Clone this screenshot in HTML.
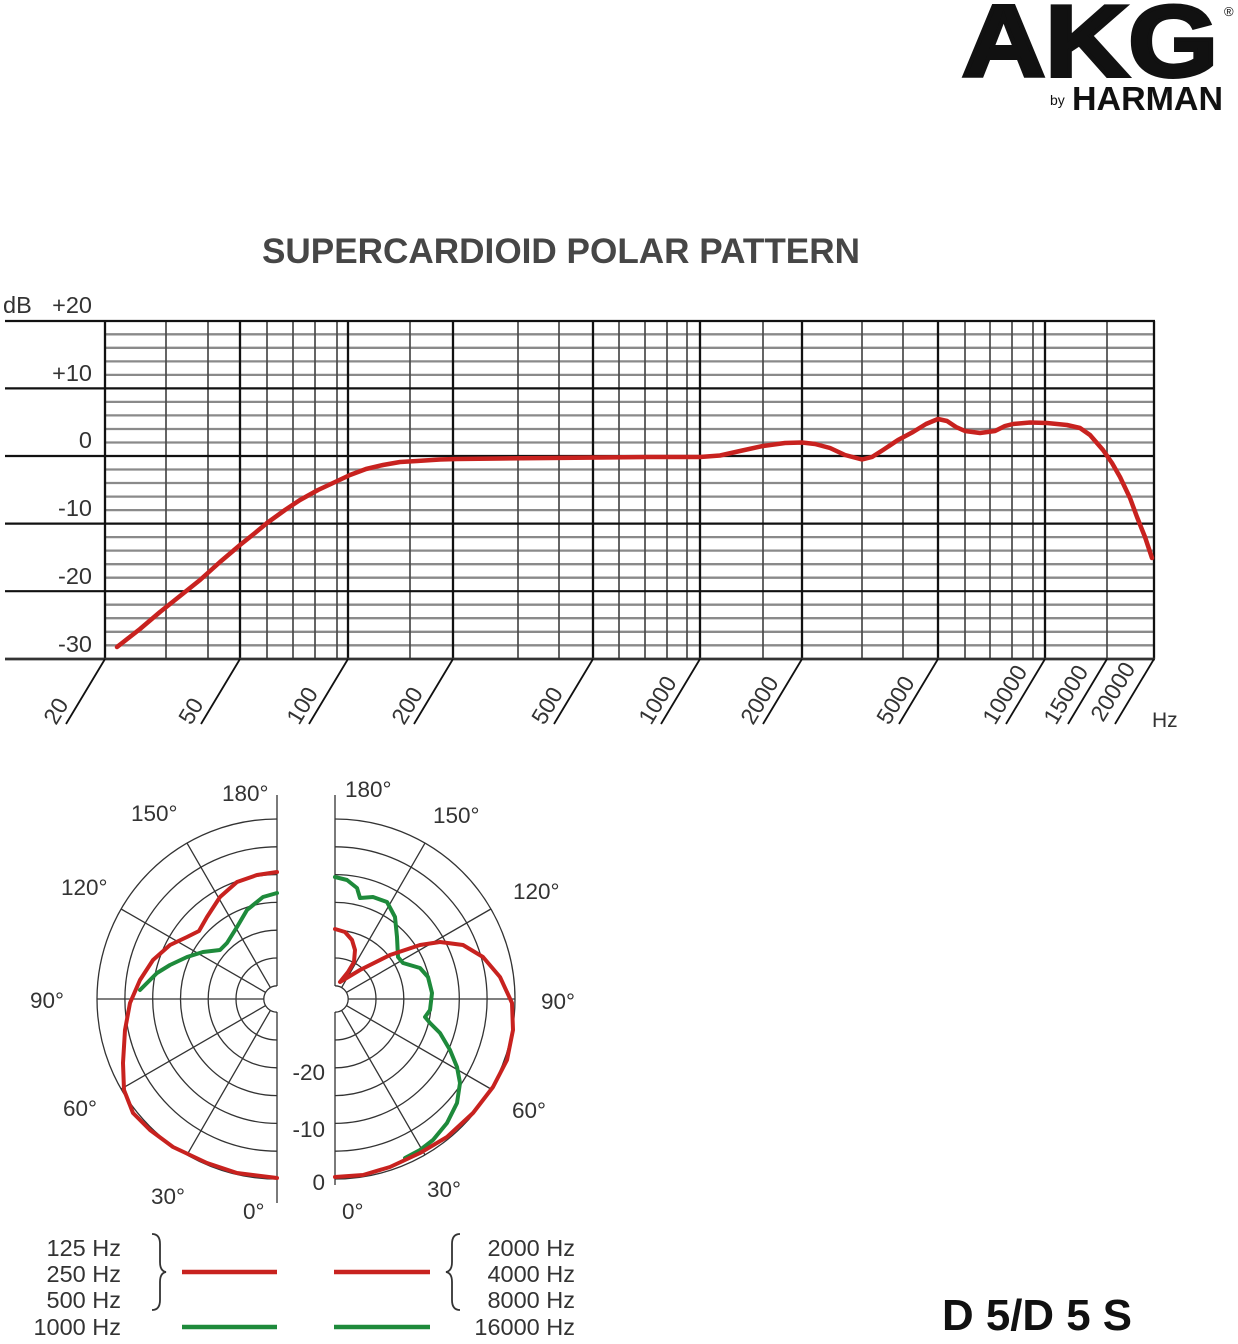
<!DOCTYPE html>
<html><head><meta charset="utf-8"><style>
html,body{margin:0;padding:0;background:#fff;}
svg{display:block;}
text{font-family:"Liberation Sans",Arial,sans-serif;}
</style></head><body>
<svg width="1238" height="1344" viewBox="0 0 1238 1344" xmlns="http://www.w3.org/2000/svg">
<rect width="1238" height="1344" fill="#fff"/>

<!-- Logo -->
<text x="962" y="76" font-size="101" font-weight="bold" fill="#111" stroke="#111" stroke-width="4" textLength="256" lengthAdjust="spacingAndGlyphs">AKG</text>
<text x="1224" y="16" font-size="13" fill="#111">®</text>
<text x="1050" y="105" font-size="14" fill="#111">by</text>
<text x="1072" y="110" font-size="33" font-weight="bold" fill="#111" textLength="151" lengthAdjust="spacingAndGlyphs">HARMAN</text>

<!-- Title -->
<text x="262" y="263" font-size="35" font-weight="bold" fill="#464646" textLength="598" lengthAdjust="spacingAndGlyphs">SUPERCARDIOID POLAR PATTERN</text>

<!-- Frequency chart grid: minor horizontals -->
<g stroke="#8a8a8a" stroke-width="2.3">
<line x1="105" x2="1154" y1="334.3" y2="334.3"/><line x1="105" x2="1154" y1="347.8" y2="347.8"/><line x1="105" x2="1154" y1="361.4" y2="361.4"/><line x1="105" x2="1154" y1="374.9" y2="374.9"/>
<line x1="105" x2="1154" y1="401.9" y2="401.9"/><line x1="105" x2="1154" y1="415.4" y2="415.4"/><line x1="105" x2="1154" y1="429" y2="429"/><line x1="105" x2="1154" y1="442.5" y2="442.5"/>
<line x1="105" x2="1154" y1="469.5" y2="469.5"/><line x1="105" x2="1154" y1="483" y2="483"/><line x1="105" x2="1154" y1="496.6" y2="496.6"/><line x1="105" x2="1154" y1="510.1" y2="510.1"/>
<line x1="105" x2="1154" y1="537.1" y2="537.1"/><line x1="105" x2="1154" y1="550.6" y2="550.6"/><line x1="105" x2="1154" y1="564.2" y2="564.2"/><line x1="105" x2="1154" y1="577.7" y2="577.7"/>
<line x1="105" x2="1154" y1="604.7" y2="604.7"/><line x1="105" x2="1154" y1="618.2" y2="618.2"/><line x1="105" x2="1154" y1="631.8" y2="631.8"/><line x1="105" x2="1154" y1="645.3" y2="645.3"/>
</g>
<!-- minor verticals -->
<g stroke="#4a4a4a" stroke-width="1.7">
<line x1="166" x2="166" y1="321" y2="659"/><line x1="208" x2="208" y1="321" y2="659"/>
<line x1="267" x2="267" y1="321" y2="659"/><line x1="293" x2="293" y1="321" y2="659"/><line x1="315" x2="315" y1="321" y2="659"/><line x1="337" x2="337" y1="321" y2="659"/>
<line x1="410" x2="410" y1="321" y2="659"/>
<line x1="518" x2="518" y1="321" y2="659"/><line x1="559" x2="559" y1="321" y2="659"/>
<line x1="619" x2="619" y1="321" y2="659"/><line x1="645" x2="645" y1="321" y2="659"/><line x1="667" x2="667" y1="321" y2="659"/><line x1="687" x2="687" y1="321" y2="659"/>
<line x1="763" x2="763" y1="321" y2="659"/>
<line x1="862" x2="862" y1="321" y2="659"/><line x1="903" x2="903" y1="321" y2="659"/>
<line x1="965" x2="965" y1="321" y2="659"/><line x1="990" x2="990" y1="321" y2="659"/><line x1="1012" x2="1012" y1="321" y2="659"/><line x1="1033" x2="1033" y1="321" y2="659"/>
<line x1="1107" x2="1107" y1="321" y2="659"/>
</g>
<!-- major verticals -->
<g stroke="#111" stroke-width="2.3">
<line x1="105" x2="105" y1="321" y2="659"/><line x1="240" x2="240" y1="321" y2="659"/><line x1="348" x2="348" y1="321" y2="659"/><line x1="453" x2="453" y1="321" y2="659"/>
<line x1="593" x2="593" y1="321" y2="659"/><line x1="700" x2="700" y1="321" y2="659"/><line x1="802" x2="802" y1="321" y2="659"/><line x1="938" x2="938" y1="321" y2="659"/>
<line x1="1045" x2="1045" y1="321" y2="659"/><line x1="1154" x2="1154" y1="321" y2="659"/>
</g>
<!-- major horizontals -->
<g stroke="#111" stroke-width="2.2">
<line x1="5" x2="1155" y1="321" y2="321"/><line x1="5" x2="1155" y1="388.4" y2="388.4"/><line x1="5" x2="1155" y1="456" y2="456"/>
<line x1="5" x2="1155" y1="523.6" y2="523.6"/><line x1="5" x2="1155" y1="591.2" y2="591.2"/>
</g>
<line x1="5" x2="1155" y1="659" y2="659" stroke="#333" stroke-width="2.8"/>
<!-- diagonal ticks -->
<g stroke="#111" stroke-width="1.8">
<line x1="105" y1="659" x2="66" y2="724"/><line x1="240" y1="659" x2="201" y2="724"/><line x1="348" y1="659" x2="309" y2="724"/>
<line x1="453" y1="659" x2="414" y2="724"/><line x1="593" y1="659" x2="554" y2="724"/><line x1="700" y1="659" x2="661" y2="724"/>
<line x1="802" y1="659" x2="763" y2="724"/><line x1="938" y1="659" x2="899" y2="724"/><line x1="1045" y1="659" x2="1006" y2="724"/>
<line x1="1107" y1="659" x2="1068" y2="724"/><line x1="1154" y1="659" x2="1115" y2="724"/>
</g>
<!-- x labels -->
<g font-size="23" fill="#333">
<text transform="translate(56,726) rotate(-59)">20</text>
<text transform="translate(191,726) rotate(-59)">50</text>
<text transform="translate(299,726) rotate(-59)">100</text>
<text transform="translate(404,726) rotate(-59)">200</text>
<text transform="translate(544,726) rotate(-59)">500</text>
<text transform="translate(651,726) rotate(-59)">1000</text>
<text transform="translate(753,726) rotate(-59)">2000</text>
<text transform="translate(889,726) rotate(-59)">5000</text>
<text transform="translate(995,726) rotate(-59)">10000</text>
<text transform="translate(1056,726) rotate(-59)">15000</text>
<text transform="translate(1103,723) rotate(-59)">20000</text>
<text x="1152" y="727" font-size="21">Hz</text>
</g>
<!-- y labels -->
<g font-size="23.5" fill="#333">
<text x="3" y="313">dB</text>
<text x="92" y="313" text-anchor="end">+20</text>
<text x="92" y="381" text-anchor="end">+10</text>
<text x="92" y="448" text-anchor="end">0</text>
<text x="92" y="516" text-anchor="end">-10</text>
<text x="92" y="584" text-anchor="end">-20</text>
<text x="92" y="652" text-anchor="end">-30</text>
</g>
<!-- response curve -->
<polyline fill="none" stroke="#c8221f" stroke-width="4.5" stroke-linejoin="round" stroke-linecap="round" points="117,647 140,629 160,612 180,596 200,580 220,562 240,545 255,533 267,523 285,510 300,500 318,490 333,483 350,475 366,469 383,465 400,462 417,461 440,459.5 457,459 500,458.5 550,458 600,457.5 650,457 680,457 700,457 720,455.5 740,451 763,446 785,443 802,442.5 815,444 830,448 845,455 862,459.5 872,457 883,450 898,440 913,432 926,424 938,419 947,421 956,427 965,431 980,433 995,431 1005,426 1013,424 1030,422.5 1047,423 1067,425 1080,428 1090,435 1103,450 1112,463 1120,477 1130,498 1137,517 1145,537 1152,558"/>

<!-- Polar grids -->
<g fill="none" stroke="#333" stroke-width="1.3">
<path d="M277,819 A180,180 0 0 0 277,1179"/>
<path d="M277,846.8 A152.2,152.2 0 0 0 277,1151.2"/>
<path d="M277,874.6 A124.4,124.4 0 0 0 277,1123.4"/>
<path d="M277,902.4 A96.6,96.6 0 0 0 277,1095.6"/>
<path d="M277,930.2 A68.8,68.8 0 0 0 277,1067.8"/>
<path d="M277,958 A41,41 0 0 0 277,1040"/>
<path d="M277,985.8 A13.2,13.2 0 0 0 277,1012.2"/>
<line x1="97" y1="999" x2="264" y2="999"/>
<line x1="270.4" y1="1010.4" x2="187" y2="1154.9"/>
<line x1="265.6" y1="1005.6" x2="121.1" y2="1089"/>
<line x1="265.6" y1="992.4" x2="121.1" y2="909"/>
<line x1="270.4" y1="987.6" x2="187" y2="843.1"/>
<line x1="277" y1="795" x2="277" y2="986"/>
<line x1="277" y1="1012" x2="277" y2="1203"/>
<path d="M335,819 A180,180 0 0 1 335,1179"/>
<path d="M335,846.8 A152.2,152.2 0 0 1 335,1151.2"/>
<path d="M335,874.6 A124.4,124.4 0 0 1 335,1123.4"/>
<path d="M335,902.4 A96.6,96.6 0 0 1 335,1095.6"/>
<path d="M335,930.2 A68.8,68.8 0 0 1 335,1067.8"/>
<path d="M335,958 A41,41 0 0 1 335,1040"/>
<path d="M335,985.8 A13.2,13.2 0 0 1 335,1012.2"/>
<line x1="348" y1="999" x2="515" y2="999"/>
<line x1="341.6" y1="1010.4" x2="425" y2="1154.9"/>
<line x1="346.4" y1="1005.6" x2="490.9" y2="1089"/>
<line x1="346.4" y1="992.4" x2="490.9" y2="909"/>
<line x1="341.6" y1="987.6" x2="425" y2="843.1"/>
<line x1="335" y1="795" x2="335" y2="986"/>
<line x1="335" y1="1012" x2="335" y2="1185"/>
</g>
<!-- Polar curves -->
<g fill="none" stroke-width="4" stroke-linejoin="round" stroke-linecap="round">
<polyline stroke="#1e8a3b" points="277,893 263,897 247,910 237,927 227,943 220,950 203,952 187,957 170,965 157,973 147,983 140,990"/>
<polyline stroke="#c8221f" points="277,872 257,875 237,882 220,897 207,917 199,931 187,937 170,945 153,960 140,980 130,1003 125,1030 123,1063 124,1090 133,1113 150,1130 173,1147 207,1163 237,1173 277,1178"/>
<polyline stroke="#1e8a3b" points="335,877 347,880 357,888 360,898 373,897 387,902 395,917 397,937 398,957 403,963 420,968 428,977 432,993 430,1010 425,1017 430,1023 440,1033 450,1050 457,1067 460,1083 457,1103 447,1123 433,1140 420,1150 405,1158"/>
<polyline stroke="#c8221f" points="335,929 345,932 352,940 355,950 354,962 348,972 340,982 360,970 390,955 420,945 440,942 463,945 483,957 500,977 512,1003 513,1030 507,1060 493,1087 473,1113 447,1137 420,1153 390,1167 363,1175 335,1177"/>
</g>
<!-- Polar labels -->
<g font-size="22.5" fill="#333">
<text x="222" y="801">180°</text>
<text x="131" y="821">150°</text>
<text x="61" y="895">120°</text>
<text x="30" y="1008">90°</text>
<text x="63" y="1116">60°</text>
<text x="151" y="1204">30°</text>
<text x="243" y="1219">0°</text>
<text x="345" y="797">180°</text>
<text x="433" y="823">150°</text>
<text x="513" y="899">120°</text>
<text x="541" y="1009">90°</text>
<text x="512" y="1118">60°</text>
<text x="427" y="1197">30°</text>
<text x="342" y="1219">0°</text>
<text x="325" y="1080" text-anchor="end">-20</text>
<text x="325" y="1137" text-anchor="end">-10</text>
<text x="325" y="1190" text-anchor="end">0</text>
</g>

<!-- Legend -->
<g font-size="23.5" fill="#333" text-anchor="end">
<text x="121" y="1256">125 Hz</text>
<text x="121" y="1282">250 Hz</text>
<text x="121" y="1308">500 Hz</text>
<text x="121" y="1335">1000 Hz</text>
<text x="575" y="1256">2000 Hz</text>
<text x="575" y="1282">4000 Hz</text>
<text x="575" y="1308">8000 Hz</text>
<text x="575" y="1335">16000 Hz</text>
</g>
<g fill="none" stroke="#333" stroke-width="1.8">
<path d="M152,1234 Q160,1234 160,1244 L160,1262 Q160,1271 166,1272 Q160,1273 160,1282 L160,1300 Q160,1310 152,1310"/>
<path d="M460,1234 Q452,1234 452,1244 L452,1262 Q452,1271 446,1272 Q452,1273 452,1282 L452,1300 Q452,1310 460,1310"/>
</g>
<g stroke-width="4.5">
<line x1="182" y1="1272" x2="277" y2="1272" stroke="#c8221f"/>
<line x1="334" y1="1272" x2="430" y2="1272" stroke="#c8221f"/>
<line x1="182" y1="1327" x2="277" y2="1327" stroke="#1e8a3b"/>
<line x1="334" y1="1327" x2="430" y2="1327" stroke="#1e8a3b"/>
</g>

<text x="942" y="1330" font-size="44" font-weight="bold" fill="#111" textLength="190" lengthAdjust="spacingAndGlyphs">D 5/D 5 S</text>
</svg>
</body></html>
